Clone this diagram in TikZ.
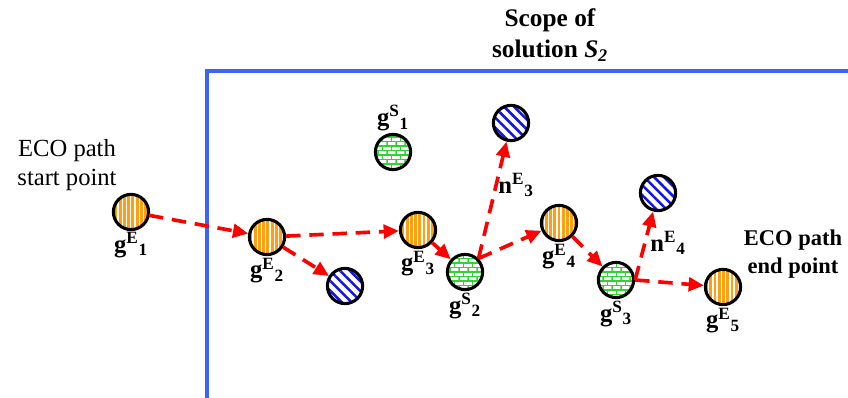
\documentclass[tikz,border=0pt]{standalone}
\usepackage{amsmath}
\usepackage{fontspec}
\setmainfont{Liberation Serif}
\usetikzlibrary{positioning, arrows.meta, patterns, patterns.meta}
\definecolor{scopeblue}{RGB}{60, 100, 250}
\definecolor{ecoorange}{RGB}{255, 160, 20}
\definecolor{brickgreen}{RGB}{50, 210, 50}
\definecolor{hatchblue}{RGB}{20, 20, 230}
\definecolor{pathred}{RGB}{255, 0, 0}

% white bricks with green joints
\pgfdeclarepatternformonly{smallbricks}{\pgfpoint{-0.5pt}{-0.5pt}}{\pgfpoint{6.9pt}{6.9pt}}{\pgfpoint{6.4pt}{6.4pt}}{
    \pgfsetlinewidth{0.9pt}
    \pgfpathmoveto{\pgfpoint{0pt}{0pt}}\pgfpathlineto{\pgfpoint{6.4pt}{0pt}}
    \pgfpathmoveto{\pgfpoint{0pt}{3.2pt}}\pgfpathlineto{\pgfpoint{6.4pt}{3.2pt}}
    \pgfpathmoveto{\pgfpoint{0pt}{0pt}}\pgfpathlineto{\pgfpoint{0pt}{3.2pt}}
    \pgfpathmoveto{\pgfpoint{3.2pt}{3.2pt}}\pgfpathlineto{\pgfpoint{3.2pt}{6.4pt}}
    \pgfusepath{stroke}}

\newcommand{\gname}[3]{$\textbf{#1}^{\textbf{#2}}{}_{\textbf{#3}}$}

\tikzset{
    gate/.style={circle, draw=black, line width=2.2pt, minimum size=0.88cm, inner sep=0pt},
    egate/.style={gate, preaction={fill=ecoorange},
        pattern={Lines[angle=90, distance=3pt, line width=1pt]}, pattern color=white},
    sgate/.style={gate, preaction={fill=white}, pattern=smallbricks, pattern color=brickgreen},
    ngate/.style={gate, preaction={fill=white},
        pattern={Lines[angle=-45, distance=5pt, line width=1.8pt]}, pattern color=hatchblue},
    glab/.style={font=\fontsize{17.5}{20}\selectfont, inner sep=1pt},
    ecopath/.style={draw=pathred, line width=2.6pt, dash pattern=on 0.36cm off 0.22cm,
        -{Triangle[length=0.38cm, width=0.34cm]}},
}

\begin{document}
\begin{tikzpicture}[x=0.025cm, y=-0.025cm]
    \useasboundingbox (0, 0) rectangle (848, 398);

    % scope of the solution
    \draw[scopeblue, line width=2.6pt] (860, 71) -- (207, 71) -- (207, 410);
    \node[font=\bfseries\fontsize{18}{22}\selectfont, align=center] (scope) at (550, 35)
        {Scope of\\solution \textit{S\textsubscript{2}}};

    \node[font=\fontsize{17.5}{21}\selectfont, align=center] (start) at (67, 165)
        {ECO path\\start point};
    \node[font=\bfseries\fontsize{16}{20}\selectfont, align=center] (finish) at (793, 254)
        {ECO path\\end point};

    % gates
    \node[egate] (gE1) at (131, 212) {};
    \node[egate] (gE2) at (267, 237) {};
    \node[ngate] (nE2) at (345, 286) {};
    \node[sgate] (gS1) at (393, 152) {};
    \node[egate] (gE3) at (418, 230) {};
    \node[sgate] (gS2) at (465, 272) {};
    \node[ngate] (nE3) at (511, 123) {};
    \node[egate] (gE4) at (559, 223) {};
    \node[sgate] (gS3) at (616, 280) {};
    \node[ngate] (nE4) at (658, 193) {};
    \node[egate] (gE5) at (723, 287) {};

    % labels
    \node[glab, below=0pt of gE1] (lE1) {\gname{g}{E}{1}};
    \node[glab, below=0pt of gE2] (lE2) {\gname{g}{E}{2}};
    \node[glab, below=0pt of gE3] (lE3) {\gname{g}{E}{3}};
    \node[glab, below=0pt of gE4] (lE4) {\gname{g}{E}{4}};
    \node[glab, below=0pt of gE5] (lE5) {\gname{g}{E}{5}};
    \node[glab, above=0pt of gS1] (lS1) {\gname{g}{S}{1}};
    \node[glab, below=0pt of gS2] (lS2) {\gname{g}{S}{2}};
    \node[glab, below=0pt of gS3] (lS3) {\gname{g}{S}{3}};
    \node[glab] (lnE3) at (516, 185) {\gname{n}{E}{3}};
    \node[glab] (lnE4) at (668, 243) {\gname{n}{E}{4}};

    % ECO path
    \draw[ecopath] (gE1) -- (gE2);
    \draw[ecopath] (gE2) -- (gE3);
    \draw[ecopath] (gE2) -- (nE2);
    \draw[ecopath] (gE3) -- (gS2);
    \draw[ecopath] (gS2.45) -- (nE3);
    \draw[ecopath] (gS2.45) -- (gE4);
    \draw[ecopath] (gE4) -- (gS3);
    \draw[ecopath] (gS3.east) -- (nE4);
    \draw[ecopath] (gS3.east) -- (gE5);
\end{tikzpicture}
\end{document}
